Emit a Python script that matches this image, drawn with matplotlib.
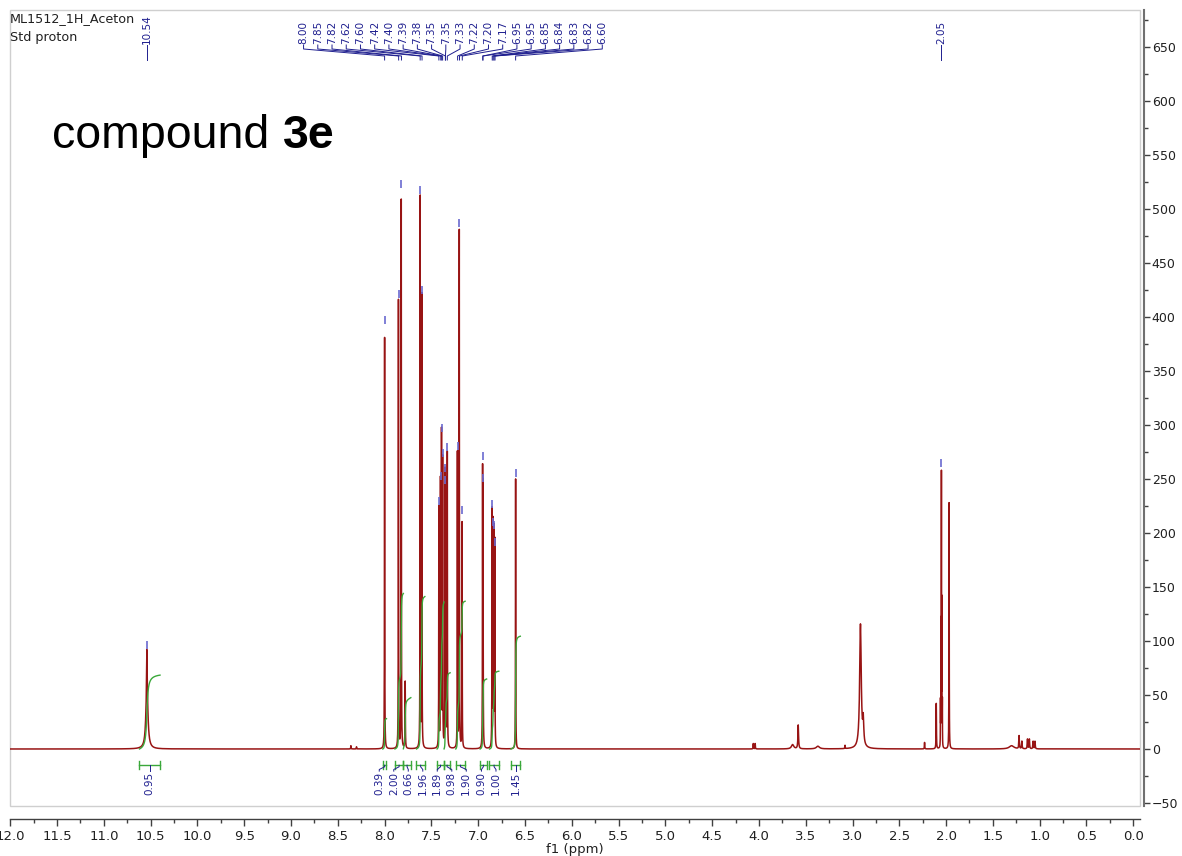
import numpy as np
import matplotlib.pyplot as plt
from matplotlib.ticker import MultipleLocator, FuncFormatter
from matplotlib.transforms import blended_transform_factory
from matplotlib.patches import Rectangle

# peaks: centre (ppm), height, line width (ppm)
peak_ppm = [10.540, 10.540, 8.360, 8.300, 8.000, 7.852, 7.822, 7.780, 7.620, 7.602,
            7.420, 7.403, 7.392, 7.380, 7.354, 7.346, 7.330, 7.222, 7.202, 7.172,
            6.953, 6.948, 6.852, 6.842, 6.832, 6.822, 6.600,
            4.060, 4.040, 3.640, 3.580, 3.370, 3.080, 2.915, 2.885, 2.230, 2.105,
            2.060, 2.055, 2.050, 2.045, 2.040, 1.968,
            1.300, 1.220, 1.190, 1.130, 1.110, 1.070, 1.050]
peak_height = [58, 34, 3, 2, 381, 415, 508, 62, 510, 419,
               222, 244, 288, 265, 250, 240, 272, 273, 479, 209,
               245, 230, 218, 205, 199, 190, 250,
               5, 5, 4, 22, 2.5, 3, 115, 22, 6, 42,
               40, 110, 248, 130, 40, 228,
               3, 12, 7, 9, 9, 7, 7]
peak_width = [0.025, 0.005, 0.004, 0.004, 0.003, 0.003, 0.003, 0.004, 0.003, 0.003,
              0.003, 0.003, 0.003, 0.003, 0.003, 0.003, 0.003, 0.003, 0.003, 0.003,
              0.003, 0.003, 0.003, 0.003, 0.003, 0.003, 0.003,
              0.004, 0.004, 0.03, 0.008, 0.04, 0.004, 0.02, 0.012, 0.004, 0.004,
              0.002, 0.002, 0.002, 0.002, 0.002, 0.003,
              0.06, 0.006, 0.006, 0.006, 0.006, 0.006, 0.006]

# picked peaks (labels at the top) and the heights of their little markers
pick_ppm = [10.54, 8.00, 7.85, 7.82, 7.62, 7.60, 7.42, 7.40, 7.39, 7.38, 7.35, 7.35,
            7.33, 7.22, 7.20, 7.17, 6.95, 6.95, 6.85, 6.84, 6.83, 6.82, 6.60, 2.05]
pick_mark = [96, 397, 421, 523, 518, 425, 230, 253, 297, 274, 260, 249,
             280, 281, 487, 221, 271, 251, 227, 210, 207, 192, 256, 265]

# integrals
int_from = [10.62, 8.02, 7.89, 7.80, 7.66, 7.44, 7.365, 7.24, 6.98, 6.88, 6.65]
int_to = [10.40, 7.98, 7.80, 7.72, 7.57, 7.365, 7.30, 7.14, 6.91, 6.78, 6.55]
int_value = [0.95, 0.39, 2.00, 0.66, 1.96, 1.89, 0.98, 1.90, 0.90, 1.00, 1.45]

red = '#981414'
green = '#3aa83a'
navy = '#1f1f8f'

# spectrum as a sum of lorentzian lines
ppm = np.union1d(np.arange(-0.1, 12.05, 0.0005), peak_ppm)
spec = np.zeros_like(ppm)
for c, h, w in zip(peak_ppm, peak_height, peak_width):
    spec += h / (1 + ((ppm - c) / (w / 2)) ** 2)


def spread(centers, gap):
    # push labels apart so they are at least `gap` ppm from each other
    groups = [[c] for c in centers]

    def layout(g):
        mid = np.mean(g)
        return [mid + gap * ((len(g) - 1) / 2 - i) for i in range(len(g))]

    changed = True
    while changed:
        changed = False
        out = [groups[0]]
        for g in groups[1:]:
            if layout(out[-1])[-1] - layout(g)[0] < gap:
                out[-1] = out[-1] + g
                changed = True
            else:
                out.append(g)
        groups = out
    pos = []
    for g in groups:
        pos += layout(g)
    return pos


fig = plt.figure(figsize=(11.82, 8.56), dpi=100)
ax = fig.add_axes([10 / 1182, 1 - 806 / 856, 1130 / 1182, 796 / 856])

ax.plot(ppm, spec, color=red, lw=1.1)

# integral curves and brackets
for f, t, v in zip(int_from, int_to, int_value):
    m = (ppm <= f) & (ppm >= t)
    x = ppm[m][::-1]
    y = spec[m][::-1]
    cum = np.cumsum(y * np.abs(np.gradient(x)))
    ax.plot(x, cum / cum[-1] * v * 72, color=green, lw=1.0)
    ax.plot([f, t], [-15, -15], color=green, lw=1.0)
    ax.plot([f, f], [-18.5, -11.5], color=green, lw=1.0)
    ax.plot([t, t], [-18.5, -11.5], color=green, lw=1.0)

centers = [(f + t) / 2 for f, t in zip(int_from, int_to)]
for c, lx, v in zip(centers, spread(centers, 0.155), int_value):
    ax.plot([c, c, lx, lx], [-15, -16.5, -19, -20.5], color=navy, lw=0.7)
    ax.text(lx, -21, f'{v:.2f}', rotation=90, ha='center', va='top',
            fontsize=7.5, color=navy)

# peak labels along the top
trans = blended_transform_factory(ax.transData, ax.transAxes)


def fy(px):
    return (806 - px) / 796


for p, lx in zip(pick_ppm, spread(pick_ppm, 0.152)):
    ax.plot([lx, lx, p, p], [fy(45), fy(49), fy(56), fy(60)], transform=trans,
            color=navy, lw=0.7, clip_on=False)
    ax.text(lx, fy(44), f'{p:.2f}', rotation=90, ha='center', va='bottom',
            transform=trans, fontsize=7.5, color=navy)
ax.plot(pick_ppm, pick_mark, '|', ms=6, mew=1.2, color='#6a6ad0')

ax.set_xlim(12.003, -0.072)
ax.set_ylim(-52.8, 684.3)

# frame and offset axes
ax.add_patch(Rectangle((0, 0), 1, 1, transform=ax.transAxes, fill=False,
                       edgecolor='#cfcfcf', lw=1.0, clip_on=False))
for s in ['top', 'left']:
    ax.spines[s].set_visible(False)
ax.spines['right'].set_position(('outward', 3))
ax.spines['right'].set_color('#707070')
ax.spines['right'].set_linewidth(1.5)
ax.spines['bottom'].set_position(('outward', 9))
ax.spines['bottom'].set_color('#404040')
ax.spines['bottom'].set_linewidth(1.0)

ax.xaxis.set_major_locator(MultipleLocator(0.5))
ax.xaxis.set_minor_locator(MultipleLocator(0.25))
ax.xaxis.set_major_formatter(FuncFormatter(lambda v, _: f'{abs(v):.1f}' if abs(v) < 1e-9 else f'{v:.1f}'))
ax.yaxis.tick_right()
ax.yaxis.set_major_locator(MultipleLocator(50))
ax.yaxis.set_minor_locator(MultipleLocator(25))
ax.tick_params(axis='x', which='major', length=5, width=1, color='#404040',
               labelsize=9.5, labelcolor='#202020', pad=3)
ax.tick_params(axis='y', which='major', length=4, width=1, color='#404040',
               labelsize=9, labelcolor='#202020', pad=1.5)
ax.tick_params(axis='both', which='minor', length=3, width=1, color='#404040')
ax.set_xlabel('f1 (ppm)', fontsize=9.5, labelpad=0, color='#202020')

fig.text(10 / 1182, 1 - 19 / 856, 'ML1512_1H_Aceton', fontsize=9.2, va='center', color='#202020')
fig.text(10 / 1182, 1 - 37 / 856, 'Std proton', fontsize=9.2, va='center', color='#202020')

t1 = fig.text(52 / 1182, 1 - 158 / 856, 'compound', fontsize=33.5,
              family='Liberation Sans', va='bottom')
ax.annotate('3e', xy=(1, 0), xycoords=t1, xytext=(10, 0), textcoords='offset points',
            fontsize=33.5, family='Liberation Sans', fontweight='bold', va='bottom',
            annotation_clip=False)

fig.savefig('out.png', dpi=100)
